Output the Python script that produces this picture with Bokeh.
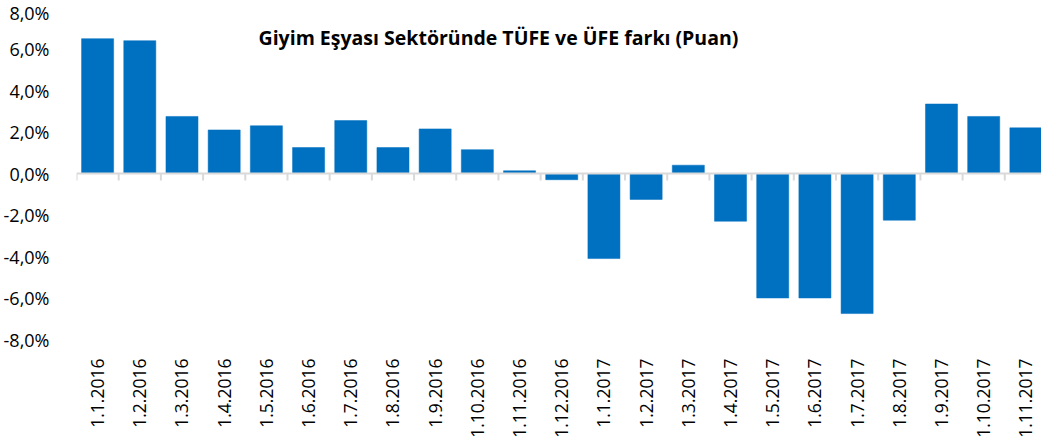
import math
from bokeh.plotting import figure
from bokeh.models import Range1d, FixedTicker, Label, ColumnDataSource
from bokeh.embed import file_html
from bokeh.resources import INLINE

categories = ["1.1.2016", "1.2.2016", "1.3.2016", "1.4.2016", "1.5.2016", "1.6.2016",
              "1.7.2016", "1.8.2016", "1.9.2016", "1.10.2016", "1.11.2016", "1.12.2016",
              "1.1.2017", "1.2.2017", "1.3.2017", "1.4.2017", "1.5.2017", "1.6.2017",
              "1.7.2017", "1.8.2017", "1.9.2017", "1.10.2017", "1.11.2017"]
values = [6.5, 6.4, 2.75, 2.1, 2.3, 1.25, 2.55, 1.25, 2.15, 1.15, 0.13, -0.3,
          -4.1, -1.25, 0.4, -2.3, -6.0, -6.0, -6.75, -2.25, 3.35, 2.75, 2.2]
y_ticks = [-8, -6, -4, -2, 0, 2, 4, 6, 8]
y_tick_labels = ["-8,0%", "-6,0%", "-4,0%", "-2,0%", "0,0%", "2,0%", "4,0%", "6,0%", "8,0%"]
title_text = "Giyim Eşyası Sektöründe TÜFE ve ÜFE farkı (Puan)"

FONT = "Open Sans"
n = len(categories)
xs = [i + 0.5 for i in range(n)]

p = figure(width=1041, height=440, output_backend="svg", toolbar_location=None,
           x_range=Range1d(0, 22.87), y_range=Range1d(-8, 8),
           min_border_left=68, min_border_right=0, min_border_top=7, min_border_bottom=101)
p.outline_line_color = None
p.grid.visible = False
p.background_fill_color = "white"
p.border_fill_color = "white"

src = ColumnDataSource(dict(x=xs, top=values, cat=categories))
p.vbar(x="x", top="top", bottom=0, width=0.76, source=src,
       fill_color="#0070C0", line_color="#0070C0", line_width=0.5)

# zero axis line and category separators
p.segment(x0=[0], y0=[0], x1=[n], y1=[0], line_color="#D9D9D9", line_width=2)
sep = list(range(n + 1))
p.segment(x0=sep, y0=[0] * len(sep), x1=sep, y1=[-0.34] * len(sep),
          line_color="#D9D9D9", line_width=2)

# y axis
p.yaxis.ticker = FixedTicker(ticks=y_ticks)
p.yaxis.major_label_overrides = {t: l for t, l in zip(y_ticks, y_tick_labels)}
p.yaxis.axis_line_color = None
p.yaxis.major_tick_line_color = None
p.yaxis.minor_tick_line_color = None
p.yaxis.major_label_standoff = 21
p.yaxis.major_label_text_font = FONT
p.yaxis.major_label_text_font_size = "18px"
p.yaxis.major_label_text_color = "#000000"

# x axis
p.xaxis.ticker = FixedTicker(ticks=xs)
p.xaxis.major_label_overrides = {x: c for x, c in zip(xs, categories)}
p.xaxis.major_label_orientation = math.pi / 2
p.xaxis.axis_line_color = None
p.xaxis.major_tick_line_color = None
p.xaxis.minor_tick_line_color = None
p.xaxis.major_label_standoff = 13
p.xaxis.major_label_text_font = FONT
p.xaxis.major_label_text_font_size = "17.5px"
p.xaxis.major_label_text_color = "#000000"

title = Label(x=10.0, y=6.55, text=title_text, text_align="center", text_baseline="middle",
              text_font=FONT, text_font_style="bold", text_font_size="19.5px", text_color="#000000")
p.add_layout(title)

open("out.html", "w").write(file_html(p, INLINE))
